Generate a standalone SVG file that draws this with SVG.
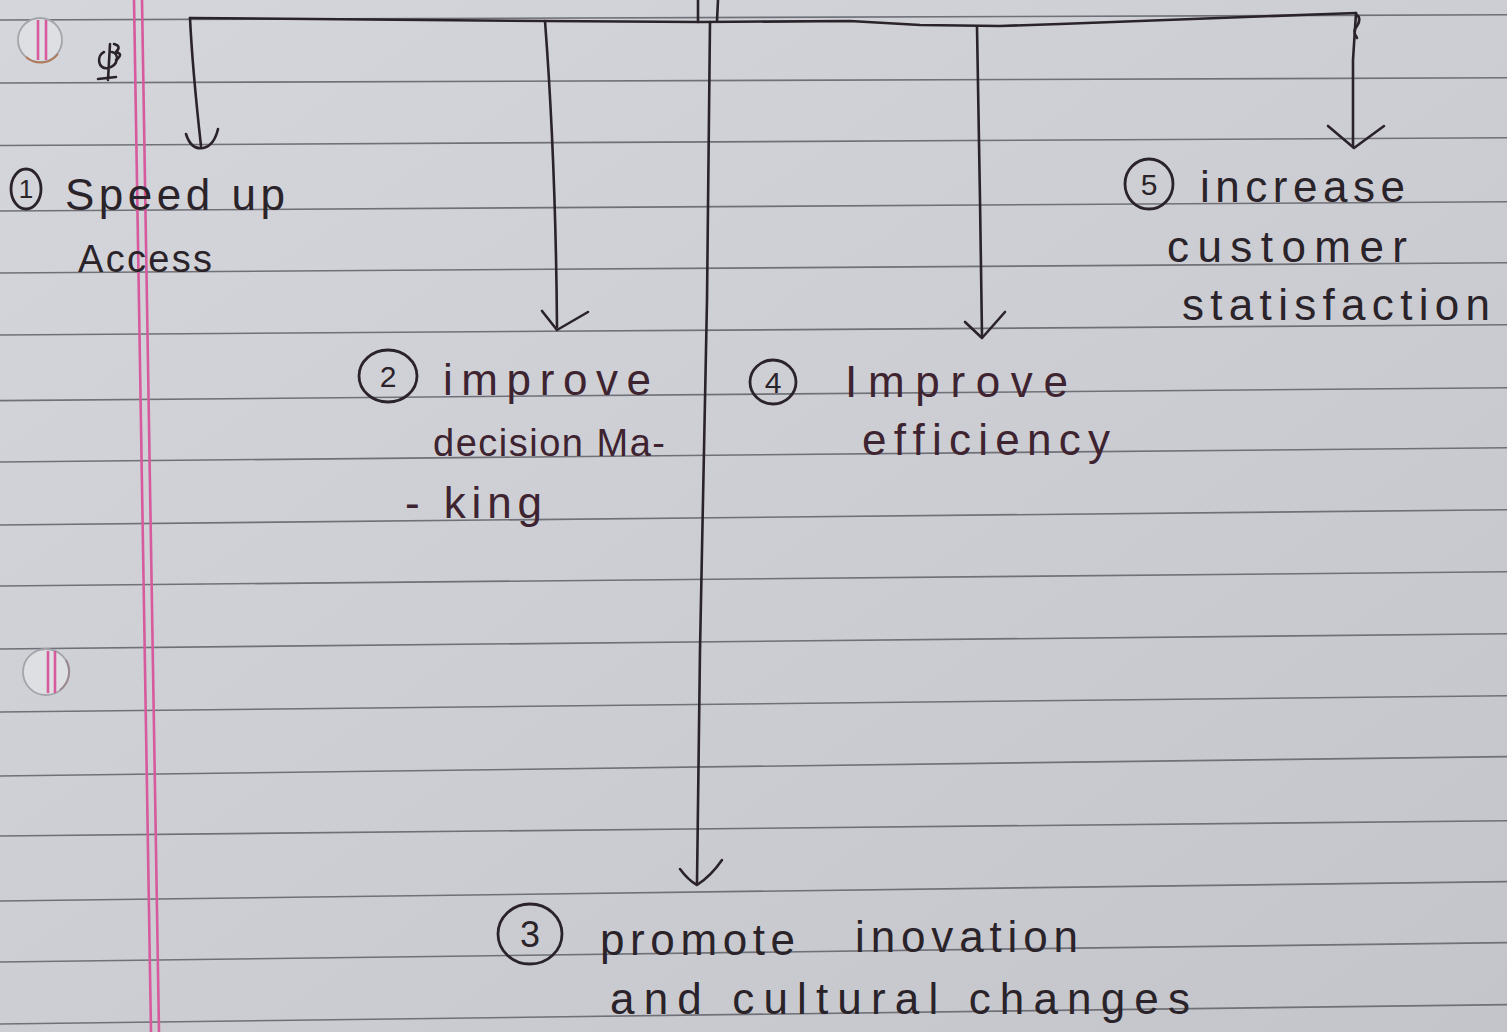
<svg xmlns="http://www.w3.org/2000/svg" width="1507" height="1032" viewBox="0 0 1507 1032">
<defs>
<linearGradient id="paper" x1="0" y1="0" x2="1" y2="1">
<stop offset="0" stop-color="#d5d6db"/>
<stop offset="0.5" stop-color="#cdced3"/>
<stop offset="1" stop-color="#c4c5cb"/>
</linearGradient>
<style>
.rule{stroke:#6f7078;stroke-width:1.6;fill:none}
.pink{stroke:#d65a9e;stroke-width:2.6;fill:none}
.hole{fill:#dedfe3;stroke:#a4a4ab;stroke-width:1.8}
.ink{stroke:#2a2329;stroke-width:2.6;fill:none;stroke-linecap:round;stroke-linejoin:round}
.ring{stroke:#2a2329;stroke-width:2.8;fill:none}
.t{font-family:"Liberation Sans","DejaVu Sans",sans-serif;font-size:44px;fill:#2a2329}
.tm{font-family:"Liberation Sans","DejaVu Sans",sans-serif;font-size:44px;fill:#3e2330}
.s40{font-size:38px}
.n{font-family:"Liberation Sans","DejaVu Sans",sans-serif;font-size:30px;fill:#2a2329;text-anchor:middle}
.n26{font-size:26px}
.n34{font-size:36px}
</style>
</defs>
<rect x="0" y="0" width="1507" height="1032" fill="url(#paper)"/>
<g id="ruling">
<line class="rule" x1="0" y1="20" x2="1507" y2="14.8"/>
<line class="rule" x1="0" y1="83" x2="1507" y2="77.8"/>
<line class="rule" x1="0" y1="145.5" x2="1507" y2="137.8"/>
<line class="rule" x1="0" y1="211" x2="1507" y2="201.8"/>
<line class="rule" x1="0" y1="273" x2="1507" y2="262.8"/>
<line class="rule" x1="0" y1="335" x2="1507" y2="324.8"/>
<line class="rule" x1="0" y1="400.6" x2="1507" y2="387.8"/>
<line class="rule" x1="0" y1="462" x2="1507" y2="447.7"/>
<line class="rule" x1="0" y1="525" x2="1507" y2="509.7"/>
<line class="rule" x1="0" y1="586" x2="1507" y2="571.7"/>
<line class="rule" x1="0" y1="649" x2="1507" y2="633.7"/>
<line class="rule" x1="0" y1="712" x2="1507" y2="695.7"/>
<line class="rule" x1="0" y1="776" x2="1507" y2="756.6"/>
<line class="rule" x1="0" y1="836" x2="1507" y2="820.7"/>
<line class="rule" x1="0" y1="901" x2="1507" y2="881.6"/>
<line class="rule" x1="0" y1="962" x2="1507" y2="942.6"/>
<line class="rule" x1="0" y1="1024" x2="1507" y2="1004.6"/>
</g>
<g id="margin">
<line class="pink" x1="134" y1="0" x2="151" y2="1032"/>
<line class="pink" x1="142" y1="0" x2="159" y2="1032"/>
</g>
<g id="holes">
<circle class="hole" cx="40" cy="40" r="22"/>
<line class="pink" x1="38" y1="20" x2="38" y2="60"/>
<line class="pink" x1="46" y1="20" x2="46" y2="60"/>
<path d="M26,57 A22,22 0 0 0 58,54" stroke="#b07a5a" stroke-width="2" fill="none"/>
<circle class="hole" cx="46" cy="672" r="23"/>
<line class="pink" x1="48" y1="651" x2="48" y2="693"/>
<line class="pink" x1="55" y1="651" x2="55" y2="693"/>
<path d="M66,660 A23,23 0 0 1 60,690" stroke="#9a8a90" stroke-width="2" fill="none"/>
</g>
<g id="scribble">
<path class="ink" d="M110,44 L108,80 M98,79 L116,77 M104,52 C96,56 98,70 108,68 C118,66 120,54 112,52 M114,44 q8,2 2,8 q8,2 0,8"/>
</g>
<g id="connectors">
<path class="ink" d="M698,0 L698,22 M718,0 L717,21"/>
<path class="ink" d="M190,18 L545,21 L700,22 L850,21 L920,25 L1000,26 L1060,24 L1300,15 L1356,13"/>
<path class="ink" d="M190,18 C192,60 197,110 201,146"/>
<path class="ink" d="M186,134 Q191,150 203,148 Q214,146 218,129"/>
<path class="ink" d="M545,21 C551,100 556,200 557,327"/>
<path class="ink" d="M542,311 L557,330 L588,312"/>
<path class="ink" d="M710,22 L707,300 L700,650 L697,883"/>
<path class="ink" d="M680,869 Q688,880 697,885 Q711,876 722,860"/>
<path class="ink" d="M977,27 L980,200 L982,336"/>
<path class="ink" d="M965,322 L982,338 L1005,312"/>
<path class="ink" d="M1356,13 L1353,60 L1353,147"/>
<path class="ink" d="M1356,14 q6,4 1,12 q-5,5 0,12"/>
<path class="ink" d="M1328,126 L1354,148 L1384,126"/>
</g>
<g id="node-1">
<ellipse class="ring" cx="26" cy="189" rx="15" ry="20"/>
<text class="n n26" x="26" y="198">1</text>
<text class="t" x="65" y="210" textLength="220" lengthAdjust="spacing">Speed up</text>
<text class="t s40" x="78" y="272" textLength="134" lengthAdjust="spacing">Access</text>
</g>
<g id="node-2">
<ellipse class="ring" cx="388" cy="376" rx="29" ry="26"/>
<text class="n" x="388" y="387">2</text>
<text class="tm" x="443" y="395" textLength="208" lengthAdjust="spacing">improve</text>
<text class="tm s40" x="433" y="456" textLength="232" lengthAdjust="spacing">decision Ma-</text>
<text class="tm" x="405" y="518" textLength="137" lengthAdjust="spacing">- king</text>
</g>
<g id="node-3">
<ellipse class="ring" cx="530" cy="934" rx="32" ry="30"/>
<text class="n n34" x="530" y="947">3</text>
<text class="t" x="600" y="955" textLength="195" lengthAdjust="spacing">promote</text>
<text class="t" x="855" y="952" textLength="223" lengthAdjust="spacing">inovation</text>
<text class="t" x="610" y="1014" textLength="580" lengthAdjust="spacing">and cultural changes</text>
</g>
<g id="node-4">
<ellipse class="ring" cx="773" cy="382" rx="23" ry="22"/>
<text class="n" x="773" y="393">4</text>
<text class="tm" x="845" y="397" textLength="223" lengthAdjust="spacing">Improve</text>
<text class="tm" x="862" y="455" textLength="248" lengthAdjust="spacing">efficiency</text>
</g>
<g id="node-5">
<ellipse class="ring" cx="1149" cy="184" rx="24" ry="25"/>
<text class="n" x="1149" y="195">5</text>
<text class="t" x="1200" y="202" textLength="205" lengthAdjust="spacing">increase</text>
<text class="t" x="1167" y="262" textLength="240" lengthAdjust="spacing">customer</text>
<text class="t" x="1182" y="320" textLength="308" lengthAdjust="spacing">statisfaction</text>
</g>
</svg>
